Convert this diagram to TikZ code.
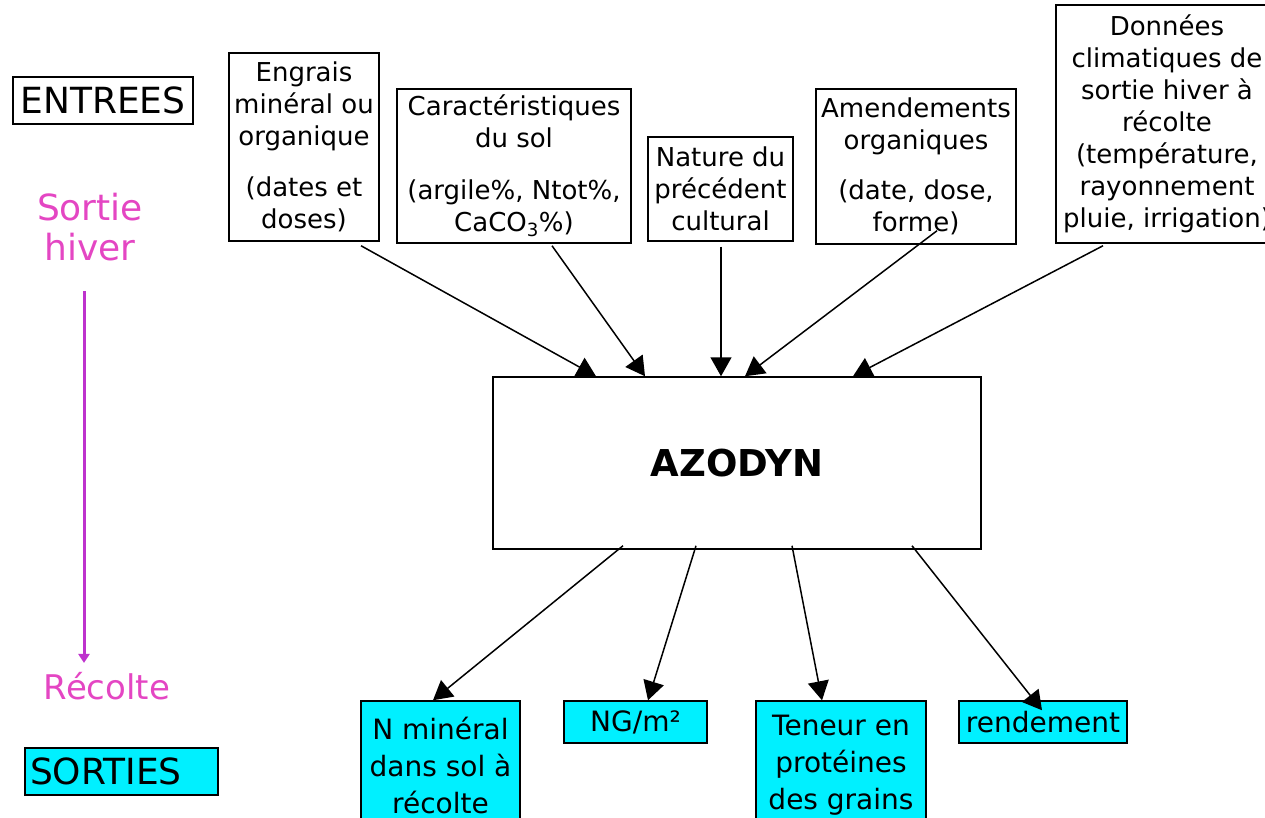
\documentclass[tikz,border=0pt]{standalone}
\usepackage{fontspec}
\setmainfont{DejaVu Sans}
\usetikzlibrary{arrows.meta,calc}

\definecolor{cyanbox}{RGB}{0,240,255}
\definecolor{rose}{RGB}{228,70,195}
\definecolor{flecherose}{RGB}{190,50,205}

\tikzset{
  entree/.style={draw, line width=1.5pt, align=center, inner sep=0pt, font=\fontsize{26}{32}\selectfont},
  sortie/.style={draw, line width=1.5pt, fill=cyanbox, align=center, inner sep=0pt, font=\fontsize{28}{37}\selectfont},
  fleche/.style={-{Triangle[length=19pt,width=21pt]}, line width=1.5pt},
  temps/.style={text=rose, align=center, inner sep=0pt},
}

\begin{document}
\begin{tikzpicture}[x=1pt,y=-1pt]
    \useasboundingbox (0,0) rectangle (1265,818);
    \clip (0,0) rectangle (1265,818);

    % legende a gauche
    \node[entree, font=\fontsize{36}{40}\selectfont, minimum width=180, minimum height=47] (entrees) at (103,100.5) {ENTREES};
    \node[temps, font=\fontsize{36}{40}\selectfont] (hiver) at (90,227) {Sortie\\hiver};
    \node[temps, font=\fontsize{34}{40}\selectfont] (recolte) at (107,686) {Récolte};
    \node[sortie, font=\fontsize{36}{40}\selectfont, text width=183, align=left, inner xsep=5, minimum height=47] (sorties) at (121.5,771.5) {SORTIES};
    \draw[flecherose, line width=3pt, -{Triangle[length=9pt,width=11pt]}] ($(hiver.south)+(-6,30)$) -- ($(recolte.north)+(-23,-9)$);

    % entrees
    \node[entree, minimum width=150, minimum height=188] (engrais) at (304,147) {Engrais\\minéral ou\\organique\\[19pt](dates et\\doses)};
    \node[entree, minimum width=234, minimum height=154] (sol) at (514,166) {Caractéristiques\\du sol\\[20pt](argile\%, Ntot\%,\\CaCO\textsubscript{3}\%)};
    \node[entree, minimum width=145, minimum height=104] (precedent) at (720.5,189) {Nature du\\précédent\\cultural};
    \node[entree, minimum width=200, minimum height=155] (amendements) at (916,166.5) {Amendements\\organiques\\[18pt](date, dose,\\forme)};
    \node[entree, minimum width=222, minimum height=238] (climat) at (1167,124) {Données\\climatiques de\\sortie hiver à\\récolte\\(température,\\rayonnement\\pluie, irrigation)};

    % modele
    \node[draw, line width=1.5pt, font=\bfseries\fontsize{37}{40}\selectfont, minimum width=488, minimum height=172] (azodyn) at (737,463) {AZODYN};

    % sorties
    \node[sortie, minimum width=159, minimum height=129] (nmin) at (440.5,765.5) {N minéral\\dans sol à\\récolte};
    \node[sortie, minimum width=143, minimum height=42] (ngm) at (635.5,722) {NG/m²};
    \node[sortie, minimum width=170, minimum height=129] (teneur) at (841,765.5) {Teneur en\\protéines\\des grains};
    \node[sortie, minimum width=168, minimum height=42] (rendement) at (1043,722) {rendement};

    \draw[fleche] ($(engrais.south)+(57,4)$) -- ($(azodyn.north)+(-141,0)$);
    \draw[fleche] ($(sol.south)+(38,2)$) -- ($(azodyn.north)+(-92,0)$);
    \draw[fleche] ($(precedent.south)+(0.5,5)$) -- ($(azodyn.north)+(-16,0)$);
    \draw[fleche] ($(amendements.south)+(21,-14)$) -- ($(azodyn.north)+(8,0)$);
    \draw[fleche] ($(climat.south)+(-64,2)$) -- ($(azodyn.north)+(116,0)$);

    \draw[fleche] ($(azodyn.south)+(-114,-4)$) -- ($(nmin.north)+(-7.5,0)$);
    \draw[fleche] ($(azodyn.south)+(-41,-4)$) -- ($(ngm.north)+(12.5,0)$);
    \draw[fleche] ($(azodyn.south)+(55,-4)$) -- ($(teneur.north)+(-19,0)$);
    \draw[fleche] ($(azodyn.south)+(175,-4)$) -- ($(rendement.north)+(-1,10)$);
\end{tikzpicture}
\end{document}
